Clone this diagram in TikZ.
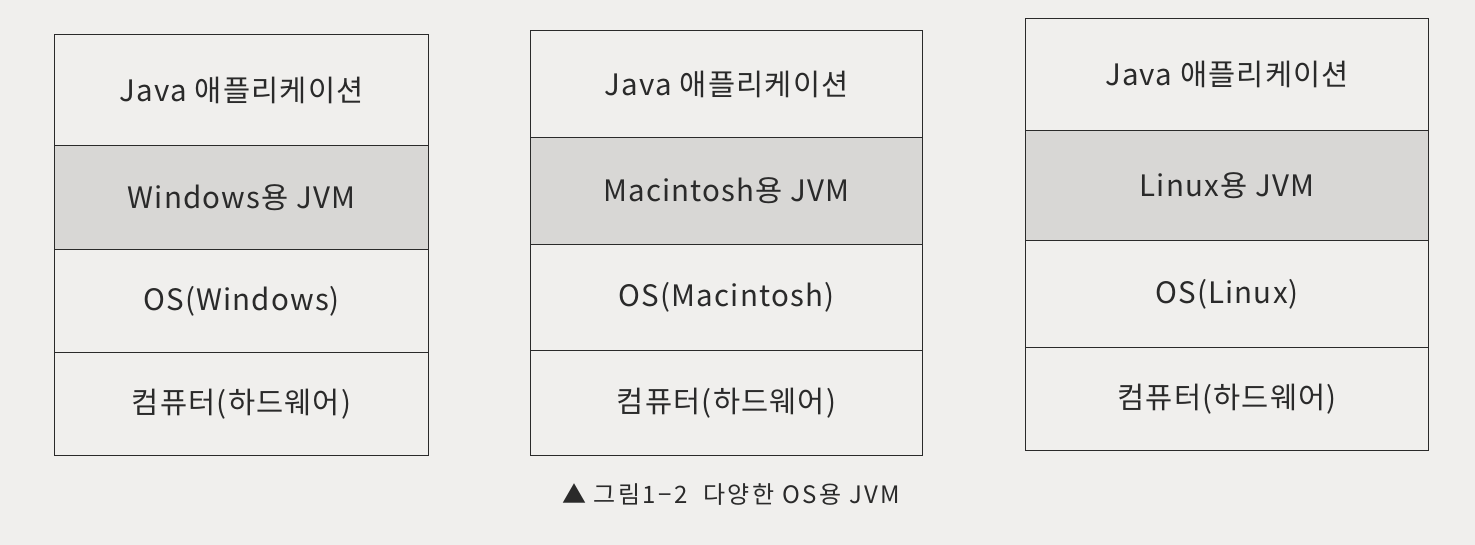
\documentclass[tikz,border=0pt]{standalone}
\usepackage{fontspec}
\setmainfont{Noto Sans CJK KR}
\newfontfamily\boxfont[LetterSpace=4]{Noto Sans CJK KR}
\newfontfamily\capfont[LetterSpace=10]{Noto Sans CJK KR}
\definecolor{paper}{HTML}{F0EFED}
\definecolor{jvmgray}{HTML}{D8D7D5}
\definecolor{ink}{HTML}{2A2A2A}
\begin{document}
\begin{tikzpicture}[x=1pt,y=-1pt,
  layer/.style={draw=ink,line width=1.2pt,minimum width=#1,inner sep=0pt,anchor=north west,font=\boxfont\fontsize{29.5}{33}\selectfont,text=ink},
  layer/.default=380pt]
\fill[paper] (0,0) rectangle (1475,545);
\useasboundingbox (0,0) rectangle (1475,545);
% stack 1
\node[layer=374pt,minimum height=111pt] (a1) at (54,34) {Java 애플리케이션};
\node[layer=374pt,minimum height=104pt,fill=jvmgray] (a2) at (54,145) {Windows용 JVM};
\node[layer=374pt,minimum height=103pt] (a3) at (54,249) {OS(Windows)};
\node[layer=374pt,minimum height=103pt] (a4) at (54,352) {컴퓨터(하드웨어)};
% stack 2
\node[layer=392pt,minimum height=107pt] (b1) at (530,30) {Java 애플리케이션};
\node[layer=392pt,minimum height=107pt,fill=jvmgray] (b2) at (530,137) {Macintosh용 JVM};
\node[layer=392pt,minimum height=106pt] (b3) at (530,244) {OS(Macintosh)};
\node[layer=392pt,minimum height=105pt] (b4) at (530,350) {컴퓨터(하드웨어)};
% stack 3
\node[layer=403pt,minimum height=112pt] (c1) at (1025,18) {Java 애플리케이션};
\node[layer=403pt,minimum height=110pt,fill=jvmgray] (c2) at (1025,130) {Linux용 JVM};
\node[layer=403pt,minimum height=107pt] (c3) at (1025,240) {OS(Linux)};
\node[layer=403pt,minimum height=103pt] (c4) at (1025,347) {컴퓨터(하드웨어)};
% caption
\node[font=\capfont\fontsize{24}{28}\selectfont,text=ink] (cap) at (731,495) {▲ 그림1−2\hspace{16pt}다양한 OS용 JVM};
\end{tikzpicture}
\end{document}
